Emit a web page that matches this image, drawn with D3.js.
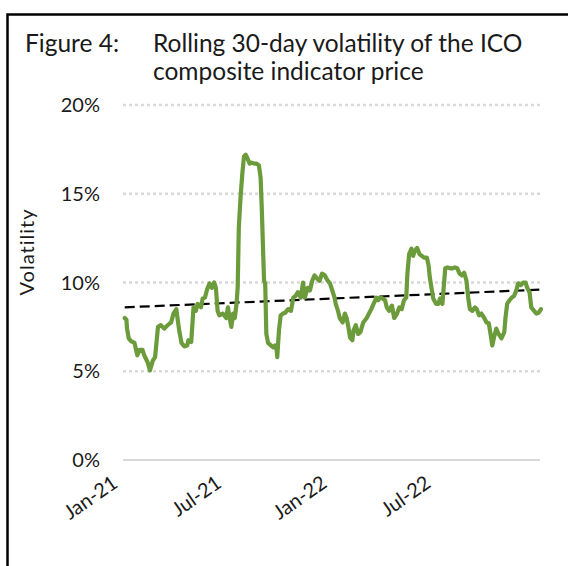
<!DOCTYPE html>
<html>
<head>
<meta charset="utf-8">
<script src="https://cdn.jsdelivr.net/npm/d3@7"></script>
<style>
  html, body { margin: 0; padding: 0; background: #fff; }
  svg { display: block; }
</style>
</head>
<body>
<div id="chart"></div>
<script>
// rolling 30-day volatility, %
const dates = [
  "2021-01-04","2021-01-07","2021-01-08","2021-01-11","2021-01-15","2021-01-21","2021-01-26","2021-01-30",
  "2021-02-04","2021-02-07","2021-02-13","2021-02-17","2021-02-22","2021-02-26","2021-03-03","2021-03-08",
  "2021-03-14","2021-03-20","2021-03-26","2021-03-30","2021-04-04","2021-04-06","2021-04-09","2021-04-13",
  "2021-04-18","2021-04-23","2021-04-25","2021-04-30","2021-05-04","2021-05-08","2021-05-11","2021-05-17",
  "2021-05-20","2021-05-24","2021-05-28","2021-06-01","2021-06-05","2021-06-09","2021-06-12","2021-06-15",
  "2021-06-18","2021-06-24","2021-06-30","2021-07-03","2021-07-06","2021-07-09","2021-07-12","2021-07-15",
  "2021-07-18","2021-07-20","2021-07-22","2021-07-25","2021-07-28","2021-07-31","2021-08-03","2021-08-06",
  "2021-08-10","2021-08-13","2021-08-18","2021-08-22","2021-08-26","2021-08-29","2021-08-31","2021-09-04",
  "2021-09-06","2021-09-08","2021-09-11","2021-09-16","2021-09-20","2021-09-23","2021-09-26","2021-09-27",
  "2021-09-30","2021-10-03","2021-10-07","2021-10-11","2021-10-16","2021-10-21","2021-10-25","2021-10-29",
  "2021-11-02","2021-11-07","2021-11-11","2021-11-14","2021-11-19","2021-11-23","2021-11-27","2021-12-01",
  "2021-12-06","2021-12-10","2021-12-14","2021-12-19","2021-12-24","2021-12-28","2022-01-01","2022-01-05",
  "2022-01-07","2022-01-11","2022-01-14","2022-01-19","2022-01-23","2022-01-26","2022-01-29","2022-02-01",
  "2022-02-05","2022-02-07","2022-02-11","2022-02-15","2022-02-19","2022-02-24","2022-03-02","2022-03-06",
  "2022-03-10","2022-03-14","2022-03-19","2022-03-22","2022-03-25","2022-03-30","2022-04-03","2022-04-06",
  "2022-04-10","2022-04-15","2022-04-19","2022-04-24","2022-04-28","2022-05-02","2022-05-06","2022-05-10",
  "2022-05-12","2022-05-15","2022-05-19","2022-05-22","2022-05-25","2022-05-29","2022-06-02","2022-06-06",
  "2022-06-10","2022-06-15","2022-06-18","2022-06-20","2022-06-23","2022-06-26","2022-07-01","2022-07-05",
  "2022-07-08","2022-07-12","2022-07-17","2022-07-21","2022-07-26","2022-07-30","2022-08-03","2022-08-07",
  "2022-08-11","2022-08-15","2022-08-19","2022-08-23","2022-08-26","2022-08-29","2022-09-02","2022-09-07",
  "2022-09-10","2022-09-14","2022-09-18","2022-09-23","2022-09-27","2022-10-01","2022-10-04","2022-10-07",
  "2022-10-10","2022-10-14","2022-10-18","2022-10-23","2022-10-28","2022-10-30","2022-11-02","2022-11-06",
  "2022-11-10","2022-11-14","2022-11-18","2022-11-21","2022-11-26","2022-11-30","2022-12-04","2022-12-07",
  "2022-12-11","2022-12-14","2022-12-19","2022-12-23","2022-12-27","2022-12-31"
];
const volatility = [
  8.0, 7.9, 7.4, 6.85, 6.7, 6.6, 5.9, 6.2,
  6.2, 5.9, 5.5, 5.05, 5.6, 5.8, 7.5, 7.6,
  7.4, 7.6, 7.75, 8.25, 8.5, 8.0, 7.3, 6.6,
  6.4, 6.45, 6.75, 6.65, 8.6, 8.4, 8.8, 8.6,
  9.1, 9.15, 9.65, 9.95, 9.7, 10.0, 9.7, 8.4,
  8.15, 8.25, 8.0, 8.6, 8.0, 7.5, 8.25, 8.0,
  8.8, 9.7, 13.1, 14.8, 16.1, 17.1, 17.2, 17.0,
  16.7, 16.75, 16.7, 16.7, 16.6, 15.9, 14.2, 10.1,
  9.95, 7.1, 6.6, 6.45, 6.35, 6.45, 6.2, 5.8,
  7.3, 8.15, 8.25, 8.3, 8.5, 8.4, 9.15, 9.25,
  9.45, 9.15, 10.0, 9.15, 9.7, 9.55, 10.1, 10.4,
  10.2, 10.1, 10.5, 10.4, 10.1, 9.95, 9.55, 9.15,
  8.8, 8.4, 8.0, 7.75, 8.25, 8.0, 7.5, 6.9,
  6.75, 7.3, 7.6, 7.1, 7.2, 7.75, 8.0, 8.25,
  8.5, 8.8, 9.15, 9.0, 9.15, 9.1, 9.0, 8.6,
  8.4, 8.7, 8.0, 8.25, 8.6, 8.5, 9.0, 9.15,
  10.5, 11.6, 11.9, 11.5, 11.8, 11.95, 11.6, 11.5,
  11.4, 11.4, 10.95, 10.3, 9.7, 9.1, 8.8, 8.8,
  9.1, 8.8, 10.8, 10.85, 10.8, 10.8, 10.85, 10.8,
  10.5, 10.4, 10.55, 10.1, 9.15, 8.5, 8.4, 8.6,
  8.5, 8.15, 8.25, 8.0, 7.75, 7.7, 7.1, 6.45,
  6.9, 7.4, 7.1, 6.85, 7.2, 8.0, 8.8, 9.0,
  9.15, 9.25, 9.55, 9.95, 9.85, 10.0, 10.0, 9.7,
  9.45, 8.6, 8.4, 8.25, 8.3, 8.5
];
// linear trend (dashed)
const trendDates = ["2021-01-04", "2022-12-31"];
const trendValues = [8.6, 9.6];

const yTicks = [0, 5, 10, 15, 20];
const xTickDates = ["2021-01-01", "2021-07-01", "2022-01-01", "2022-07-01"];
const xTickLabels = ["Jan-21", "Jul-21", "Jan-22", "Jul-22"];

const W = 568, H = 566;
const font = "Lato, 'Noto Sans', sans-serif";
const parse = d3.timeParse("%Y-%m-%d");

const svg = d3.select("#chart").append("svg")
    .attr("width", W)
    .attr("height", H);

// frame
svg.append("rect")
    .attr("x", 7.5).attr("y", 14.5)
    .attr("width", 700).attr("height", 700)
    .attr("fill", "none")
    .attr("stroke", "#000")
    .attr("stroke-width", 2.5);

// title
let title = svg.append("g")
    .attr("font-family", font)
    .attr("font-size", 24.5)
    .attr("fill", "#1a1a1a");
title.append("text").attr("x", 25).attr("y", 52).text("Figure 4:");
title.append("text").attr("x", 153).attr("y", 52).text("Rolling 30-day volatility of the ICO");
title.append("text").attr("x", 153).attr("y", 80).text("composite indicator price");

let x = d3.scaleTime()
    .domain([parse("2021-01-01"), parse("2022-12-31")])
    .range([123, 541]);

let y = d3.scaleLinear()
    .domain([0, 20])
    .range([460, 105]);

// gridlines
svg.append("g")
    .selectAll("line")
    .data(yTicks)
    .join("line")
    .attr("x1", 123).attr("x2", 540)
    .attr("y1", d => y(d)).attr("y2", d => y(d))
    .attr("stroke", "#d9d9d9")
    .attr("stroke-width", d => d === 0 ? 2 : 2.5)
    .attr("stroke-dasharray", d => d === 0 ? null : "3,3");

// y tick labels
svg.append("g")
    .selectAll("text")
    .data(yTicks)
    .join("text")
    .attr("x", 100)
    .attr("y", d => y(d))
    .attr("dy", "0.35em")
    .attr("text-anchor", "end")
    .attr("font-family", font)
    .attr("font-size", 20)
    .attr("fill", "#1a1a1a")
    .text(d => d + "%");

// y axis title
svg.append("text")
    .attr("transform", "translate(34,252) rotate(-90)")
    .attr("text-anchor", "middle")
    .attr("font-family", font)
    .attr("font-size", 20)
    .attr("letter-spacing", 1)
    .attr("fill", "#1a1a1a")
    .text("Volatility");

// x tick labels, rotated
svg.append("g")
    .selectAll("text")
    .data(xTickDates)
    .join("text")
    .attr("transform", d => "translate(" + (x(parse(d)) - 4) + ",486) rotate(-35)")
    .attr("text-anchor", "end")
    .attr("font-family", font)
    .attr("font-size", 20)
    .attr("fill", "#1a1a1a")
    .text((d, i) => xTickLabels[i]);

// trend line
let trend = trendDates.map((d, i) => ({ key: parse(d), value: trendValues[i] }));
svg.append("path")
    .datum(trend)
    .attr("fill", "none")
    .attr("stroke", "#000")
    .attr("stroke-width", 2.2)
    .attr("stroke-dasharray", "10,5")
    .attr("d", d3.line().x(d => x(d.key)).y(d => y(d.value)));

// volatility line
let series = dates.map((d, i) => ({ key: parse(d), value: volatility[i] }));
svg.append("path")
    .datum(series)
    .attr("fill", "none")
    .attr("stroke", "#6b9b3a")
    .attr("stroke-width", 4.2)
    .attr("stroke-linejoin", "round")
    .attr("stroke-linecap", "round")
    .attr("d", d3.line().x(d => x(d.key)).y(d => y(d.value)));
</script>
</body>
</html>
